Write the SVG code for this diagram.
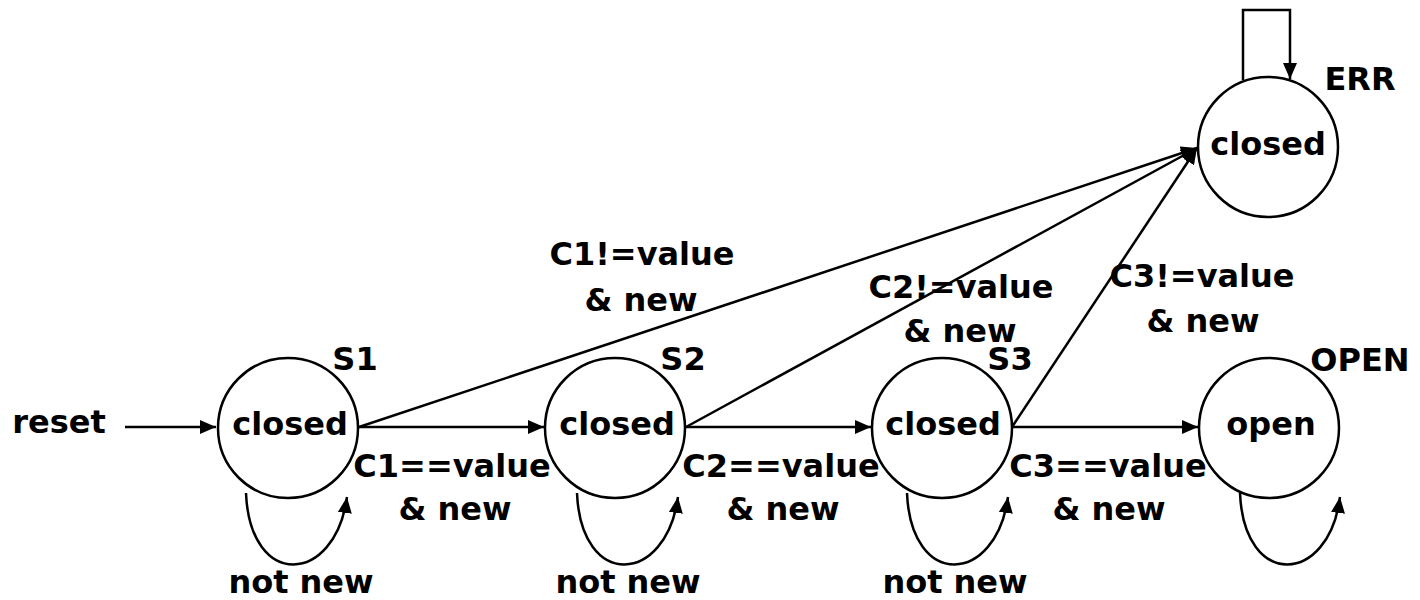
<svg xmlns="http://www.w3.org/2000/svg" width="1420" height="600" viewBox="0 0 1420 600">
<style>
text{font-family:"DejaVu Sans","Liberation Sans",sans-serif;font-weight:bold;font-size:32px;fill:#000;text-anchor:middle}
.st{fill:#fff;stroke:#000;stroke-width:2.5}
.c{fill:none;stroke:#000;stroke-width:2.5}
</style>
<defs>
<marker id="a" markerWidth="16" markerHeight="14" refX="16" refY="7" orient="auto" markerUnits="userSpaceOnUse"><path d="M0,0 L16,7 L0,14 z" fill="#000"/></marker>
</defs>
<rect width="1420" height="600" fill="#fff"/>
<g id="connectors">
<line class="c" x1="125" y1="427" x2="216" y2="427" marker-end="url(#a)"/>
<line class="c" x1="359" y1="427" x2="544" y2="427" marker-end="url(#a)"/>
<line class="c" x1="686" y1="427" x2="871" y2="427" marker-end="url(#a)"/>
<line class="c" x1="1012" y1="427" x2="1198" y2="427" marker-end="url(#a)"/>
<line class="c" x1="359" y1="427" x2="1197" y2="148" marker-end="url(#a)"/>
<line class="c" x1="686" y1="427" x2="1197" y2="148" marker-end="url(#a)"/>
<line class="c" x1="1012" y1="427" x2="1197" y2="148" marker-end="url(#a)"/>
<polyline class="c" points="1243,80 1243,10 1290,10 1290,79" marker-end="url(#a)"/>
<path class="c" d="M246,493 C250,590 335,585 347,497" marker-end="url(#a)"/>
<path class="c" d="M577,493 C581,590 666,585 678,497" marker-end="url(#a)"/>
<path class="c" d="M907,493 C911,590 996,585 1008,497" marker-end="url(#a)"/>
<path class="c" d="M1240,493 C1244,590 1329,585 1340,497" marker-end="url(#a)"/>
<text x="642" y="265">C1!=value</text>
<text x="641" y="311">&amp; new</text>
<text x="961" y="298">C2!=value</text>
<text x="960" y="342">&amp; new</text>
<text x="1202" y="287">C3!=value</text>
<text x="1203" y="332">&amp; new</text>
<text x="452" y="477">C1==value</text>
<text x="455" y="520">&amp; new</text>
<text x="781" y="477">C2==value</text>
<text x="783" y="520">&amp; new</text>
<text x="1108" y="477">C3==value</text>
<text x="1109" y="520">&amp; new</text>
<text x="301" y="593">not new</text>
<text x="628" y="593">not new</text>
<text x="955" y="593">not new</text>
<text x="59" y="433">reset</text>
</g>
<g id="S1">
<circle class="st" cx="288" cy="428" r="70"/>
<text x="290" y="435">closed</text>
<text x="355" y="370">S1</text>
</g>
<g id="S2">
<circle class="st" cx="615" cy="428" r="70"/>
<text x="617" y="435">closed</text>
<text x="683" y="370">S2</text>
</g>
<g id="S3">
<circle class="st" cx="942" cy="428" r="70"/>
<text x="943" y="435">closed</text>
<text x="1010" y="370">S3</text>
</g>
<g id="OPEN">
<circle class="st" cx="1269" cy="428" r="70"/>
<text x="1271" y="435">open</text>
<text x="1360" y="371">OPEN</text>
</g>
<g id="ERR">
<circle class="st" cx="1268" cy="147" r="70"/>
<text x="1268" y="155">closed</text>
<text x="1360" y="90">ERR</text>
</g>
</svg>
